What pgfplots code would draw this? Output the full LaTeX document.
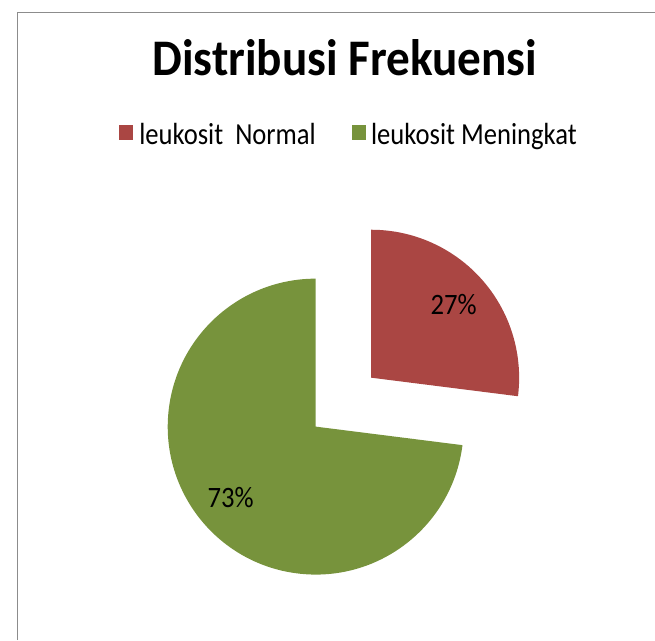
\documentclass[border=0pt]{standalone}
\usepackage{pgfplots}
\pgfplotsset{compat=1.18}
\usepackage{pgfplotstable}
\usepackage{fontspec}
\setmainfont{Carlito}
\definecolor{cred}{HTML}{AA4643}
\definecolor{cgreen}{HTML}{77933C}
\definecolor{cborder}{HTML}{8C8C8C}

\pgfplotstableread{
label value
Normal 27
Meningkat 73
}\piedata

\begin{document}
\pgfplotstablegetelem{0}{value}\of\piedata \let\va\pgfplotsretval
\pgfplotstablegetelem{1}{value}\of\piedata \let\vb\pgfplotsretval
\pgfmathsetmacro{\tot}{\va+\vb}
\pgfmathsetmacro{\enda}{90-360/\tot*\va}
\pgfmathsetmacro{\mida}{90-180/\tot*\va}
\pgfmathsetmacro{\endb}{\enda-360/\tot*\vb}
\begin{tikzpicture}
\begin{axis}[
  x=1pt, y=1pt, xmin=0, xmax=655, ymin=0, ymax=649,
  hide axis, clip=false,
]
\coordinate (bl) at (axis cs:0,0);
\coordinate (tr) at (axis cs:655,649);
\draw[cborder, line width=1.5pt] (axis cs:8.5,0) -- (axis cs:8.5,636.5) -- (axis cs:655,636.5);
% slices
\fill[cred, shift={(\mida:75pt)}] (axis cs:311,216.5) -- ++(90:150pt) arc[start angle=90, end angle=\enda, radius=150pt] -- cycle;
\fill[cgreen] (axis cs:311,216.5) -- ++(\enda:150pt) arc[start angle=\enda, end angle=\endb, radius=150pt] -- cycle;
% labels
\node[anchor=base, inner sep=0pt, font=\fontsize{30}{34}\selectfont, xscale=0.9] at (axis cs:450.8,329.7) {\va\%};
\node[anchor=base, inner sep=0pt, font=\fontsize{30}{34}\selectfont, xscale=0.9] at (axis cs:224.7,134.7) {\vb\%};
% title
\node[anchor=base, inner sep=0pt, font=\bfseries\fontsize{52}{58}\selectfont, xscale=0.92] at (axis cs:340.5,572) {Distribusi Frekuensi};
% legend
\fill[cred] (axis cs:112,507) rectangle (axis cs:126,522);
\node[anchor=base west, inner sep=0pt, font=\fontsize{31}{35}\selectfont, xscale=0.87] at (axis cs:132,502.5) {leukosit\ \ Normal};
\fill[cgreen] (axis cs:348,507) rectangle (axis cs:362,522);
\node[anchor=base west, inner sep=0pt, font=\fontsize{31}{35}\selectfont, xscale=0.87] at (axis cs:367,502.5) {leukosit Meningkat};
\end{axis}
\pgfresetboundingbox
\path[use as bounding box] (bl) rectangle (tr);
\end{tikzpicture}
\end{document}
